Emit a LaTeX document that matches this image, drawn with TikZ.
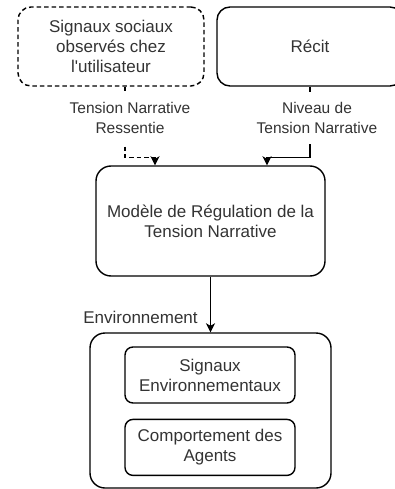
\documentclass[tikz,border=0pt]{standalone}
\usepackage{fontspec}
\setmainfont{Liberation Sans}
\usepackage{tikz}
\usetikzlibrary{positioning, arrows.meta}
\definecolor{textgray}{rgb}{0.2,0.2,0.2}

\tikzset{
  block/.style={draw, line width=1.4pt, rounded corners=13pt, align=center, inner sep=0pt,
    text=textgray, font=\fontsize{17}{20}\selectfont},
  flow/.style={line width=1.4pt, -{Stealth[length=9pt, width=9pt, inset=2.5pt]}},
  edgelabel/.style={fill=white, align=center, inner sep=0pt, minimum height=52pt,
    text=textgray, font=\fontsize{15.5}{20}\selectfont}
}

\begin{document}
\begin{tikzpicture}[x=1pt, y=-1pt]
\useasboundingbox (0,0) rectangle (395,489);
\clip (0,0) rectangle (395,489);

% Vertical positions
\def\yTop{46.5}
\def\yModel{221}
\def\yEnv{410.5}
\def\yLabel{118}

% Top row: the two inputs (the right one runs past the edge)
\node[block, dash pattern=on 4.5pt off 3pt, minimum width=186pt, minimum height=79pt] (signaux) at (111,\yTop)
  {Signaux sociaux\\observés chez\\l\textquotesingle utilisateur};
\node[block, minimum width=186pt, minimum height=79pt] (recit) at (310,\yTop) {Récit};

% Middle: the regulation model
\node[block, rounded corners=15pt, minimum width=229pt, minimum height=110pt] (modele) at (210.5,\yModel)
  {Modèle de Régulation de la\\Tension Narrative};

% Bottom: environment box with two inner boxes
\node[block, rounded corners=15pt, minimum width=241pt, minimum height=155pt] (env) at (210.5,\yEnv) {};
\node[block, rounded corners=8pt, minimum width=170pt, minimum height=56pt] (sigenv) at (210,375)
  {Signaux\\Environnementaux};
\node[block, rounded corners=8pt, minimum width=170pt, minimum height=56pt, below=15pt of sigenv] (agents)
  {Comportement des\\Agents};

% Connectors into the model
\draw[flow, dash pattern=on 4.5pt off 3pt] ([xshift=14pt]signaux.south) -- ++(0,71) -| ([xshift=-55.5pt]modele.north);
\draw[flow] (recit.south) -- ++(0,71) -| ([xshift=56.5pt]modele.north);

% Labels sit on top of the lines
\node[edgelabel] (lblressentie) at (130,\yLabel) {Tension Narrative\\Ressentie};
\node[edgelabel] (lblniveau) at (317,\yLabel) {Niveau de\\Tension Narrative};

% Model to environment
\draw[flow] (modele) -- (env);
\node[text=textgray, font=\fontsize{17}{20}\selectfont] (lblenv) at (140.5,317) {Environnement};

\end{tikzpicture}
\end{document}
